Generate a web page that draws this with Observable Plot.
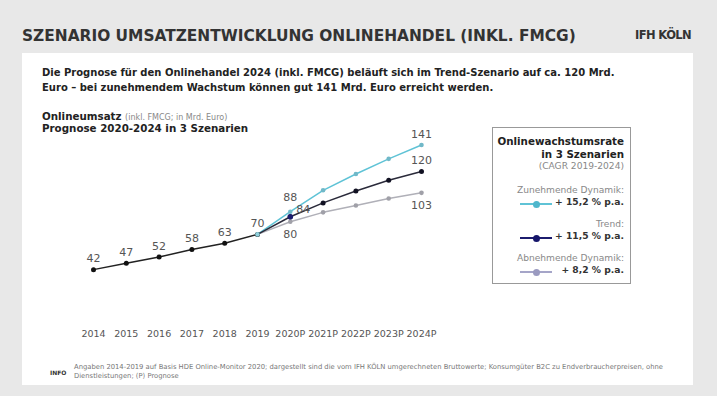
<!DOCTYPE html>
<html><head><meta charset="utf-8">
<script src="https://cdn.jsdelivr.net/npm/d3@7"></script>
<script src="https://cdn.jsdelivr.net/npm/@observablehq/plot@0.6"></script>
<style>
html,body{margin:0;padding:0;}
body{width:717px;height:396px;background:#e8e8e8;position:relative;overflow:hidden;font-family:"DejaVu Sans",Verdana,sans-serif;}
.abs{position:absolute;white-space:nowrap;}
#panel{position:absolute;left:22px;top:53px;width:671px;height:332px;background:#fff;}
#title{left:22px;top:27px;font-size:15.4px;font-weight:bold;color:#333;}
#brand{left:635px;top:28px;font-size:11.5px;font-weight:bold;color:#333;letter-spacing:-0.6px;}
.lead{left:42px;font-size:10px;font-weight:bold;color:#222;}
.sub{left:42px;font-size:10.3px;font-weight:bold;color:#222;}
.sub span{font-weight:normal;color:#888;font-size:8px;}
#legend{position:absolute;left:492px;top:127px;width:139px;height:157px;border:1.5px solid #999;box-sizing:border-box;background:#fff;}
.lg{position:absolute;right:6px;text-align:right;white-space:nowrap;}
.lgh{font-size:10.3px;font-weight:bold;color:#222;}
.lgs{font-size:9.1px;color:#888;}
.lgv{font-size:9.2px;font-weight:bold;color:#333;}
.sw{position:absolute;height:2px;}
.sw i{position:absolute;left:50%;top:-2.5px;width:7px;height:7px;margin-left:-3.5px;border-radius:50%;}
#info{left:50px;top:369px;font-size:6px;font-weight:bold;color:#333;}
.foot{left:74px;font-size:6.8px;color:#777;}
#chart{position:absolute;left:0;top:0;}
</style></head>
<body>
<div id="panel"></div>
<div id="title" class="abs">SZENARIO UMSATZENTWICKLUNG ONLINEHANDEL (INKL. FMCG)</div>
<div id="brand" class="abs">IFH KÖLN</div>
<div class="abs lead" style="top:67px">Die Prognose für den Onlinehandel 2024 (inkl. FMCG) beläuft sich im Trend-Szenario auf ca. 120 Mrd.</div>
<div class="abs lead" style="top:82px">Euro – bei zunehmendem Wachstum können gut 141 Mrd. Euro erreicht werden.</div>
<div class="abs sub" style="top:110px">Onlineumsatz <span>(inkl. FMCG; in Mrd. Euro)</span></div>
<div class="abs sub" style="top:122px">Prognose 2020-2024 in 3 Szenarien</div>
<div id="chart"></div>
<div id="legend"></div>
<div id="info" class="abs">INFO</div>
<div class="abs foot" style="top:363px">Angaben 2014-2019 auf Basis HDE Online-Monitor 2020; dargestellt sind die vom IFH KÖLN umgerechneten Bruttowerte; Konsumgüter B2C zu Endverbraucherpreisen, ohne</div>
<div class="abs foot" style="top:372px">Dienstleistungen; (P) Prognose</div>
<script>
// ---- data ----
const years = ["2014","2015","2016","2017","2018","2019","2020P","2021P","2022P","2023P","2024P"];
const histYears = ["2014","2015","2016","2017","2018","2019"];
const histValues = [42, 47, 52, 58, 63, 70];
const scenYears = ["2019","2020P","2021P","2022P","2023P","2024P"];
const zunehmendValues = [70, 88, 105, 118, 130, 141];
const trendValues = [70, 84, 95, 104.5, 113, 120];
const abnehmendValues = [70, 80, 87.5, 93, 98.5, 103];
const scenarioNames = ["Zunehmende Dynamik:", "Trend:", "Abnehmende Dynamik:"];
const scenarioRates = ["+ 15,2 % p.a.", "+ 11,5 % p.a.", "+ 8,2 % p.a."];

const colors = {hist:"#222222", zun:"#5fc3d6", trend:"#1c1c6e", abn:"#a5a5c8"};
const hist = histYears.map((x,i)=>({x, v:histValues[i]}));
const zun = scenYears.map((x,i)=>({x, v:zunehmendValues[i]}));
const trend = scenYears.map((x,i)=>({x, v:trendValues[i]}));
const abn = scenYears.map((x,i)=>({x, v:abnehmendValues[i]}));
const last = a => a[a.length-1];
const txt = {fill:"#555", fontSize:11, fontFamily:"DejaVu Sans, sans-serif"};

const plot = Plot.plot({
  width:717, height:396,
  marginLeft:93, marginRight:296, marginTop:144.5, marginBottom:74,
  style:{background:"transparent", overflow:"visible"},
  x:{type:"point", domain:years, padding:0, round:false, label:null},
  y:{domain:[0,141], axis:null, label:null},
  marks:[
    Plot.axisX({tickSize:0, tickPadding:8, fontSize:9.5, fill:"#555", label:null, fontFamily:"DejaVu Sans, sans-serif"}),
    Plot.line(abn,{x:"x",y:"v",stroke:"#b0b0b8",strokeWidth:1.5}),
    Plot.line(zun,{x:"x",y:"v",stroke:colors.zun,strokeWidth:1.5}),
    Plot.line(trend,{x:"x",y:"v",stroke:"#2a2a3a",strokeWidth:1.5}),
    Plot.line(hist,{x:"x",y:"v",stroke:colors.hist,strokeWidth:1.5}),
    Plot.dot(abn.slice(1),{x:"x",y:"v",r:2.3,fill:"#a0a0a8"}),
    Plot.dot(zun.slice(1),{x:"x",y:"v",r:2.3,fill:"#70b8c8"}),
    Plot.dot(trend.slice(1),{x:"x",y:"v",r:2.5,fill:"#111122"}),
    Plot.dot([trend[1]],{x:"x",y:"v",r:2.8,fill:colors.trend}),
    Plot.dot(hist,{x:"x",y:"v",r:2.5,fill:"#111"}),
    Plot.dot([hist[5]],{x:"x",y:"v",r:2.3,fill:"#8fd0dc"}),
    Plot.text(hist,{x:"x",y:"v",text:d=>String(d.v),dy:-11,...txt}),
    Plot.text([zun[1]],{x:"x",y:"v",text:d=>String(d.v),dy:-14,...txt}),
    Plot.text([trend[1]],{x:"x",y:"v",text:d=>String(d.v),dx:13,dy:-7,...txt}),
    Plot.text([abn[1]],{x:"x",y:"v",text:d=>String(d.v),dy:13,...txt}),
    Plot.text([last(zun)],{x:"x",y:"v",text:d=>String(d.v),dy:-11,...txt}),
    Plot.text([last(trend)],{x:"x",y:"v",text:d=>String(d.v),dy:-11,...txt}),
    Plot.text([last(abn)],{x:"x",y:"v",text:d=>String(d.v),dy:13,...txt})
  ]
});
document.getElementById("chart").appendChild(plot);

// legend (HTML)
const lg = document.getElementById("legend");
const add = (cls, top, html) => { const d=document.createElement("div"); d.className="lg "+cls; d.style.top=top+"px"; d.innerHTML=html; lg.appendChild(d); };
add("lgh", 7, "Onlinewachstumsrate");
add("lgh", 20, "in 3 Szenarien");
add("lgs", 33, "(CAGR 2019-2024)");
const swColors = [colors.zun, colors.trend, colors.abn];
const dotColors = ["#4fb7cc", "#15156a", "#9a9ac0"];
scenarioNames.forEach((n,i)=>{
  const base = 57 + i*34;
  add("lgs", base, n);
  add("lgv", base+11, scenarioRates[i]);
  const s=document.createElement("div"); s.className="sw";
  s.style.left="27px"; s.style.width="32px"; s.style.top=(base+18)+"px"; s.style.background=swColors[i];
  const dot=document.createElement("i"); dot.style.background=dotColors[i]; s.appendChild(dot);
  lg.appendChild(s);
});
</script>
</body></html>
